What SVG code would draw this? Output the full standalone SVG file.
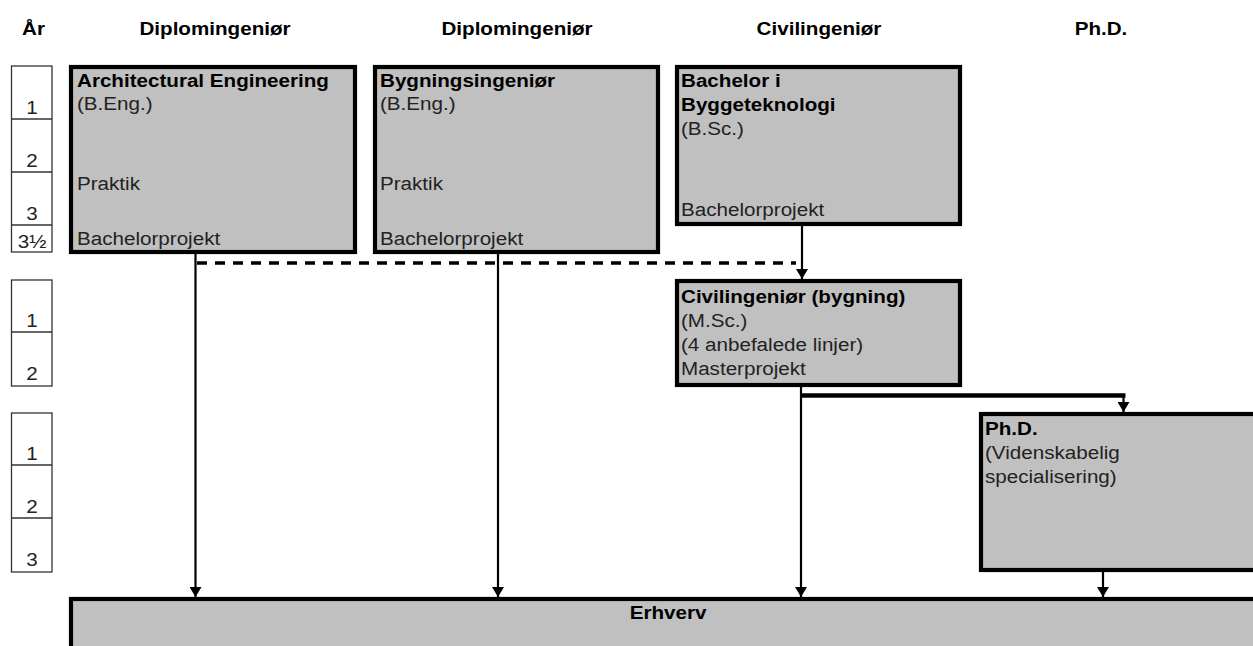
<svg xmlns="http://www.w3.org/2000/svg" width="1253" height="646" viewBox="0 0 1253 646">
<style>
text{font-family:"Liberation Sans",Arial,sans-serif;font-size:19px;fill:#222}
.b{font-weight:bold;fill:#000}
.m{text-anchor:middle}
.box{fill:#c0c0c0;stroke:#000;stroke-width:4.2}
.yr{fill:#fff;stroke:#333;stroke-width:1.3}
.yl{stroke:#333;stroke-width:1.3}
.ln{fill:none;stroke:#000;stroke-width:2.2}
</style>
<defs>
<marker id="ah" markerUnits="userSpaceOnUse" viewBox="0 0 10 12" refX="10" refY="6" markerWidth="10" markerHeight="12" orient="auto">
<path d="M0,0 L10,6 L0,12 z" fill="#000"/>
</marker>
</defs>
<rect width="1253" height="646" fill="#fff"/>
<g id="headers">
<text class="b" transform="translate(22,35) scale(1.085,1)">År</text>
<text class="b m" transform="translate(215,35) scale(1.085,1)">Diplomingeniør</text>
<text class="b m" transform="translate(517,35) scale(1.085,1)">Diplomingeniør</text>
<text class="b m" transform="translate(819,35) scale(1.085,1)">Civilingeniør</text>
<text class="b m" transform="translate(1101,35) scale(1.085,1)">Ph.D.</text>
</g>
<g id="years">
<rect class="yr" x="11.5" y="66" width="40.5" height="186"/>
<line class="yl" x1="11.5" y1="119" x2="52" y2="119"/>
<line class="yl" x1="11.5" y1="172" x2="52" y2="172"/>
<line class="yl" x1="11.5" y1="225" x2="52" y2="225"/>
<text class="m" transform="translate(32,114) scale(1.085,1)">1</text>
<text class="m" transform="translate(32,167) scale(1.085,1)">2</text>
<text class="m" transform="translate(32,220) scale(1.085,1)">3</text>
<text class="m" transform="translate(32,248) scale(1.085,1)">3½</text>
<rect class="yr" x="11.5" y="280" width="40.5" height="106"/>
<line class="yl" x1="11.5" y1="332" x2="52" y2="332"/>
<text class="m" transform="translate(32,327) scale(1.085,1)">1</text>
<text class="m" transform="translate(32,380) scale(1.085,1)">2</text>
<rect class="yr" x="11.5" y="413" width="40.5" height="159"/>
<line class="yl" x1="11.5" y1="465" x2="52" y2="465"/>
<line class="yl" x1="11.5" y1="518" x2="52" y2="518"/>
<text class="m" transform="translate(32,460) scale(1.085,1)">1</text>
<text class="m" transform="translate(32,513) scale(1.085,1)">2</text>
<text class="m" transform="translate(32,566) scale(1.085,1)">3</text>
</g>
<g id="connectors">
<path class="ln" d="M195.5,253 V597" marker-end="url(#ah)"/>
<path class="ln" d="M498,253 V597" marker-end="url(#ah)"/>
<path d="M197,263 H796" stroke="#000" stroke-width="3.5" stroke-dasharray="10 8" fill="none"/>
<path class="ln" d="M802,226 V279" marker-end="url(#ah)"/>
<path class="ln" d="M801,387 V597" marker-end="url(#ah)"/>
<path d="M800,395.5 H1125.5" stroke="#000" stroke-width="4.5" fill="none"/>
<path class="ln" d="M1123.5,394 V412" marker-end="url(#ah)"/>
<path class="ln" d="M1103,572 V597" marker-end="url(#ah)"/>
</g>
<g id="node-arch">
<rect class="box" x="71" y="67" width="284" height="185"/>
<text class="b" transform="translate(77,87) scale(1.085,1)">Architectural Engineering</text>
<text transform="translate(77,110) scale(1.085,1)">(B.Eng.)</text>
<text transform="translate(77,190) scale(1.085,1)">Praktik</text>
<text transform="translate(77,245) scale(1.085,1)">Bachelorprojekt</text>
</g>
<g id="node-byg">
<rect class="box" x="375" y="67" width="283" height="185"/>
<text class="b" transform="translate(380,87) scale(1.085,1)">Bygningsingeniør</text>
<text transform="translate(380,110) scale(1.085,1)">(B.Eng.)</text>
<text transform="translate(380,190) scale(1.085,1)">Praktik</text>
<text transform="translate(380,245) scale(1.085,1)">Bachelorprojekt</text>
</g>
<g id="node-bsc">
<rect class="box" x="677" y="67" width="283" height="157"/>
<text class="b" transform="translate(681,87) scale(1.085,1)">Bachelor i</text>
<text class="b" transform="translate(681,111) scale(1.085,1)">Byggeteknologi</text>
<text transform="translate(681,135) scale(1.085,1)">(B.Sc.)</text>
<text transform="translate(681,216) scale(1.085,1)">Bachelorprojekt</text>
</g>
<g id="node-msc">
<rect class="box" x="677" y="281" width="283" height="104"/>
<text class="b" transform="translate(681,303) scale(1.085,1)">Civilingeniør (bygning)</text>
<text transform="translate(681,327) scale(1.085,1)">(M.Sc.)</text>
<text transform="translate(681,351) scale(1.085,1)">(4 anbefalede linjer)</text>
<text transform="translate(681,375) scale(1.085,1)">Masterprojekt</text>
</g>
<g id="node-phd">
<rect class="box" x="981" y="414" width="300" height="156"/>
<text class="b" transform="translate(985,435) scale(1.085,1)">Ph.D.</text>
<text transform="translate(985,459) scale(1.085,1)">(Videnskabelig</text>
<text transform="translate(985,483) scale(1.085,1)">specialisering)</text>
</g>
<g id="node-erhverv">
<rect class="box" x="71" y="599" width="1220" height="100"/>
<text class="b m" transform="translate(668,619) scale(1.085,1)">Erhverv</text>
</g>
</svg>
